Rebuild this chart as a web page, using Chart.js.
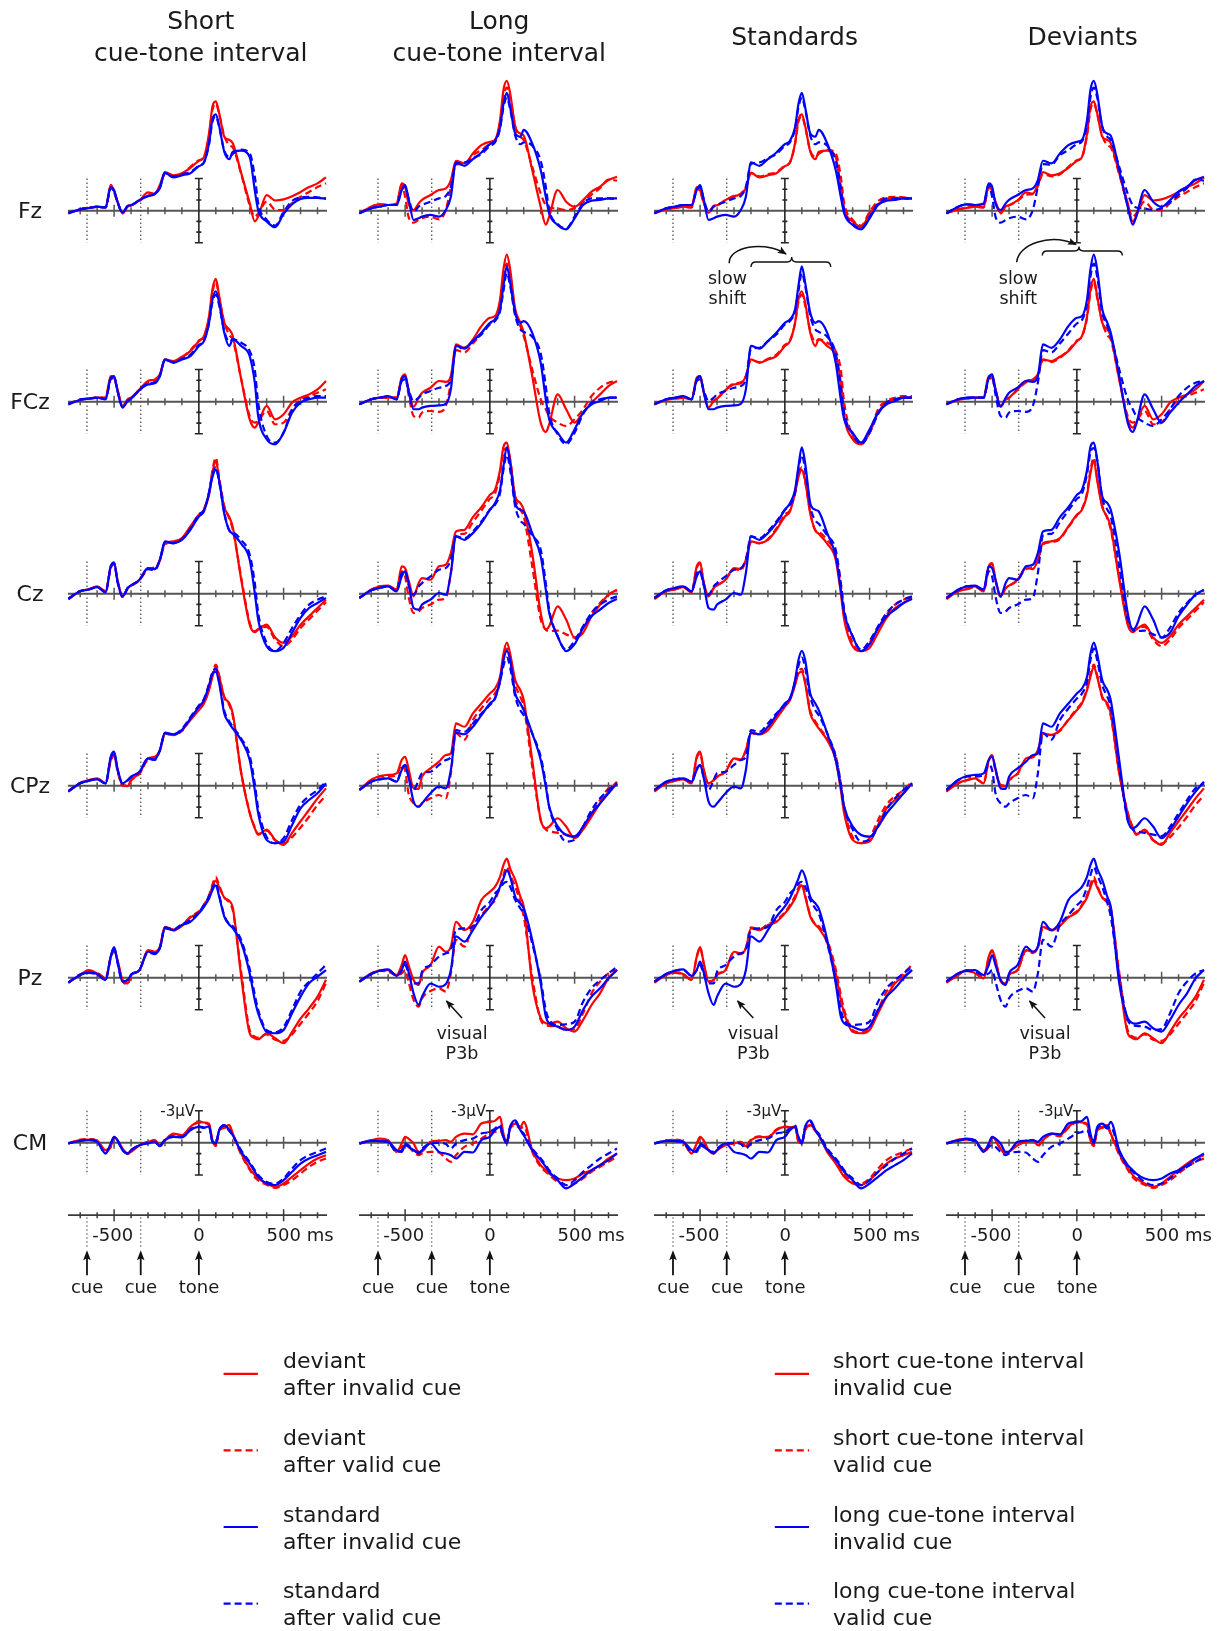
<!DOCTYPE html>
<html>
<head>
<meta charset="utf-8">
<script src="https://cdn.jsdelivr.net/npm/chart.js@4.4.1/dist/chart.umd.min.js"></script>
<style>
  html, body { margin: 0; padding: 0; background: #fff; }
  #fig { position: relative; width: 1222px; height: 1631px; overflow: hidden;
         font-family: "DejaVu Sans", Verdana, sans-serif; color: #1a1a1a; }
  #fig canvas { position: absolute; }
  #ann { position: absolute; left: 0; top: 0; z-index: 2; pointer-events: none; }
  .lbl { position: absolute; white-space: nowrap; transform: translate(-50%, -50%); line-height: 1; z-index: 3; }
  .title { font-size: 25px; line-height: 32px; text-align: center; }
  .elec { font-size: 22px; }
  .uv { font-size: 15px; transform: translate(-100%, -50%); }
  .tick { font-size: 18px; }
  .tick .unit { position: absolute; left: 100%; top: 0; }
  .mark { font-size: 18px; }
  .note { font-size: 17.5px; line-height: 20px; text-align: center; }
  .leg { position: absolute; font-size: 22px; line-height: 27px; white-space: nowrap; z-index: 3; }
</style>
</head>
<body>
<div id="fig">
<svg id="ann" width="1222" height="1631" viewBox="0 0 1222 1631">
  <defs>
    <marker id="head" viewBox="0 0 10 10" refX="9" refY="5" markerWidth="9" markerHeight="9"
            markerUnits="userSpaceOnUse" orient="auto">
      <path d="M0,1 L10,5 L0,9 L2,5 z" fill="#111"/>
    </marker>
  </defs>
  <!-- slow shift, standards -->
  <path d="M729.3,263.3 C728,247 764,240 786,254" fill="none" stroke="#111" stroke-width="1.5" marker-end="url(#head)"/>
  <path d="M751,267 Q751,262 756,262 L787,262 Q791.7,262 791.7,257 Q791.7,262 796.5,262 L826,262 Q830.7,262 830.7,267"
        fill="none" stroke="#111" stroke-width="1.4"/>
  <!-- slow shift, deviants -->
  <path d="M1016.7,262.3 C1018,244 1050,233 1076,244.5" fill="none" stroke="#111" stroke-width="1.5" marker-end="url(#head)"/>
  <path d="M1042.3,255.5 Q1042.3,251 1047,251 L1074.5,251 Q1079,251 1079,246.5 Q1079,251 1083.5,251 L1117.5,251 Q1122.3,251 1122.3,255.5"
        fill="none" stroke="#111" stroke-width="1.4"/>
  <!-- visual P3b -->
  <line x1="462" y1="1018" x2="446.5" y2="1001" stroke="#111" stroke-width="1.5" marker-end="url(#head)"/>
  <line x1="753.3" y1="1018" x2="737.5" y2="1001" stroke="#111" stroke-width="1.5" marker-end="url(#head)"/>
  <line x1="1045" y1="1018" x2="1029.5" y2="1001" stroke="#111" stroke-width="1.5" marker-end="url(#head)"/>
</svg>
</div>
<script>
// sample times in ms relative to tone onset
const times = [-770,-700,-650,-600,-550,-520,-500,-480,-450,-420,-400,-350,-300,-260,-230,-200,-150,-100,-50,0,
  30,60,80,100,120,150,180,200,250,300,330,350,400,450,500,550,600,650,700,750];

// amplitudes in µV (negative plotted up)
// s/l = short/long cue-tone interval, d/s = deviant/standard, i/v = after invalid/valid cue
const fz_sdi = [0.25,-0.12,-0.25,-0.37,-0.3,-2.4,-1.8,-0.85,0.2,-0.4,-0.5,-0.95,-1.7,-1.6,-2.4,-3.6,-3.3,-3.5,-4.0,-4.65,-5.0,-7.2,-9.7,-10.2,-9.1,-6.9,-6.6,-6.3,-3.5,-0.7,1.0,0.55,-1.45,-0.95,-1.05,-1.35,-1.75,-2.2,-2.55,-3.1];
const fz_sdv = [0.2,-0.1,-0.3,-0.35,-0.3,-2.2,-1.7,-0.8,0.25,-0.35,-0.5,-0.9,-1.5,-1.55,-2.3,-3.4,-3.2,-3.4,-4.1,-4.7,-5.0,-7.0,-9.4,-10.0,-9.0,-7.0,-6.1,-5.9,-3.4,-0.5,0.55,0.25,-0.85,-0.1,-0.05,-0.7,-1.3,-1.75,-2.2,-2.55];
const fz_ssi = [0.25,-0.12,-0.25,-0.37,-0.3,-2.2,-1.9,-0.85,0.2,-0.45,-0.5,-1.0,-1.35,-1.55,-2.1,-3.55,-3.1,-3.3,-3.5,-4.15,-4.5,-6.3,-8.5,-9.0,-7.9,-5.5,-4.8,-5.5,-5.6,-5.0,-1.9,-0.05,1.0,1.55,0.3,-0.6,-1.1,-1.2,-1.2,-1.1];
const fz_ssv = [0.2,-0.15,-0.25,-0.35,-0.3,-2.1,-1.8,-0.8,0.15,-0.4,-0.5,-1.0,-1.4,-1.6,-2.2,-3.5,-3.2,-3.4,-3.6,-4.2,-4.5,-6.2,-8.3,-8.8,-7.8,-5.6,-5.0,-5.3,-5.7,-5.35,-3.2,-0.7,0.85,1.4,0.1,-0.9,-1.25,-1.3,-1.25,-1.15];
const fz_ldi = [0.25,-0.37,-0.59,-0.53,-0.68,-2.55,-2.24,-0.68,-0.06,-0.68,-1.0,-1.46,-1.93,-2.08,-2.86,-4.66,-4.41,-5.34,-6.12,-6.43,-6.59,-8.45,-11.24,-12.11,-10.93,-7.83,-7.2,-7.0,-3.79,-0.37,1.3,0.55,-1.93,-0.84,-0.37,-0.99,-1.77,-2.24,-2.86,-3.17];
const fz_ldv = [0.25,-0.37,-0.59,-0.53,-0.62,-2.4,-1.3,0.56,1.12,0.87,0.71,0.56,0.81,-0.06,-2.24,-4.35,-4.29,-5.19,-5.65,-6.21,-6.46,-8.07,-10.56,-11.49,-10.56,-7.83,-6.9,-6.59,-4.1,-1.6,-0.5,-0.3,-0.2,-0.06,-0.25,-0.8,-1.5,-2.1,-2.9,-2.8];
const fz_lsi = [0.25,-0.22,-0.37,-0.53,-0.53,-1.93,-2.39,-1.15,0.87,0.71,0.56,0.4,0.56,-0.06,-1.3,-4.5,-4.19,-4.81,-5.43,-6.21,-6.52,-7.76,-9.94,-10.99,-9.63,-7.2,-6.9,-7.55,-6.27,-3.79,-1.3,0.25,1.34,1.74,0.71,-0.53,-0.93,-1.0,-1.15,-1.15];
const fz_lsv = [0.25,-0.22,-0.37,-0.53,-0.53,-1.93,-2.24,-1.15,0.09,-0.37,-0.53,-0.84,-1.15,-1.37,-2.24,-4.35,-4.5,-4.91,-5.28,-6.06,-6.37,-7.64,-9.63,-10.56,-9.47,-7.0,-6.2,-6.37,-6.06,-4.66,-2.24,-0.06,1.24,1.65,0.56,-0.68,-1.15,-1.15,-1.15,-1.06];

const fcz_sdi = [0.25,-0.16,-0.28,-0.37,-0.37,-2.39,-2.24,-1.15,0.4,-0.22,-0.37,-1.15,-1.93,-2.08,-2.55,-3.94,-3.79,-4.19,-4.72,-5.65,-6.12,-7.98,-10.47,-11.46,-9.84,-7.36,-6.74,-6.12,-2.08,1.65,2.42,1.96,0.4,1.65,1.18,0.09,-0.37,-0.68,-1.15,-1.93];
const fcz_sdv = [0.2,-0.2,-0.3,-0.4,-0.35,-2.2,-2.1,-1.1,0.45,-0.2,-0.35,-1.1,-1.8,-2.0,-2.5,-3.9,-3.7,-4.1,-4.8,-5.7,-6.1,-7.8,-10.2,-11.2,-9.7,-7.4,-6.2,-5.8,-2.1,1.34,1.96,1.8,0.87,2.11,1.96,0.71,-0.22,-0.53,-0.84,-1.15];
const fcz_ssi = [0.25,-0.16,-0.28,-0.37,-0.22,-2.24,-2.39,-1.0,0.56,-0.06,-0.28,-1.09,-1.61,-1.71,-2.39,-3.94,-3.63,-3.94,-4.25,-5.19,-5.65,-7.36,-9.53,-10.31,-9.22,-6.43,-5.19,-5.81,-5.19,-4.25,-1.77,1.34,3.51,3.98,2.89,1.02,0.09,-0.22,-0.37,-0.37];
const fcz_ssv = [0.2,-0.2,-0.3,-0.35,-0.25,-2.1,-2.3,-1.0,0.5,-0.1,-0.3,-1.1,-1.7,-1.8,-2.4,-3.9,-3.7,-4.0,-4.4,-5.3,-5.7,-7.3,-9.3,-10.0,-9.0,-6.6,-5.6,-5.81,-5.5,-4.72,-3.0,0.09,3.2,3.82,2.89,0.71,-0.06,-0.37,-0.53,-0.53];
const fcz_ldi = [0.25,-0.22,-0.37,-0.37,-0.37,-2.24,-2.55,-1.15,0.47,-0.37,-0.84,-1.3,-1.93,-1.85,-2.39,-5.34,-5.03,-5.81,-7.05,-7.83,-7.98,-9.53,-12.33,-13.73,-12.33,-8.6,-7.36,-6.43,-2.39,1.96,2.83,2.11,-0.68,0.71,1.96,1.02,0.09,-0.68,-1.46,-1.93];
const fcz_ldv = [0.25,-0.22,-0.37,-0.37,-0.37,-2.2,-2.4,-0.68,1.34,1.49,1.02,0.87,0.95,0.4,-1.77,-4.81,-4.6,-5.43,-6.37,-7.3,-7.61,-9.16,-11.65,-12.89,-11.65,-8.29,-7.05,-6.12,-3.01,-0.22,0.71,1.34,1.96,2.27,1.65,0.71,-0.53,-1.3,-1.77,-1.93];
const fcz_lsi = [0.25,-0.22,-0.37,-0.53,-0.22,-2.08,-2.39,-1.0,0.71,0.71,0.56,0.4,0.35,0.2,-1.15,-5.2,-4.95,-5.65,-6.43,-7.36,-7.67,-8.6,-10.78,-12.64,-11.09,-8.29,-7.36,-7.52,-6.43,-3.63,-0.22,1.65,2.89,3.82,2.58,1.02,0.25,-0.06,-0.37,-0.37];
const fcz_lsv = [0.25,-0.22,-0.37,-0.47,-0.22,-1.93,-2.08,-1.15,-0.06,-0.37,-0.68,-1.0,-1.3,-1.46,-2.08,-4.91,-5.03,-5.65,-6.27,-7.2,-7.52,-8.45,-10.31,-12.02,-10.78,-7.98,-6.74,-6.52,-6.06,-4.5,-1.46,1.02,3.04,3.98,2.89,1.18,0.09,-0.22,-0.37,-0.37];

const cz_sdi = [0.5,-0.22,-0.43,-0.68,-0.22,-2.55,-2.86,-1.3,0.25,-0.53,-0.75,-1.3,-2.39,-2.3,-3.17,-4.72,-4.88,-5.19,-6.27,-7.36,-7.83,-9.22,-11.24,-12.42,-10.56,-8.07,-7.14,-6.21,-1.3,2.89,3.6,3.35,2.89,4.1,4.6,3.98,2.89,2.11,1.34,0.56];
const cz_sdv = [0.45,-0.25,-0.4,-0.6,-0.25,-2.4,-2.8,-1.2,0.3,-0.5,-0.7,-1.25,-2.3,-2.45,-3.1,-4.6,-4.8,-5.1,-6.2,-7.3,-7.9,-9.4,-11.5,-12.7,-10.8,-8.2,-7.0,-6.0,-1.5,2.7,3.5,3.3,3.1,4.3,4.9,4.3,3.2,2.4,1.6,0.8];
const cz_ssi = [0.5,-0.22,-0.37,-0.62,-0.12,-2.55,-2.92,-1.15,0.25,-0.53,-0.78,-1.3,-2.39,-2.3,-3.17,-4.88,-4.72,-5.03,-5.96,-7.2,-7.67,-9.38,-10.87,-11.55,-10.56,-7.45,-5.9,-5.59,-4.66,-3.17,-0.06,2.42,4.91,5.37,5.06,3.65,2.27,1.34,0.87,0.4];
const cz_ssv = [0.45,-0.25,-0.4,-0.6,-0.15,-2.4,-2.8,-1.1,0.3,-0.5,-0.75,-1.3,-2.3,-2.2,-3.1,-4.8,-4.7,-5.1,-6.1,-7.4,-7.8,-9.5,-11.1,-11.8,-10.4,-7.6,-5.9,-5.75,-5.0,-3.65,-1.0,1.8,4.6,5.37,4.6,3.2,1.96,1.02,0.56,0.25];
const cz_ldi = [0.4,-0.37,-0.68,-0.75,-0.37,-2.55,-2.39,-1.3,0.25,-1.0,-1.46,-1.3,-2.55,-2.7,-3.79,-5.81,-5.96,-7.14,-8.07,-9.22,-9.69,-11.55,-13.7,-14.1,-12.48,-9.07,-8.45,-7.83,-3.79,1.8,3.35,3.04,1.18,2.42,4.1,3.65,2.11,1.02,0.09,-0.37];
const cz_ldv = [0.4,-0.37,-0.68,-0.68,-0.37,-2.08,-1.61,0.25,1.8,1.65,1.34,1.02,0.56,0.4,-1.93,-5.43,-5.59,-6.68,-7.76,-8.85,-9.32,-11.18,-13.17,-13.6,-12.48,-8.91,-7.83,-7.2,-2.55,2.42,3.35,3.5,3.45,3.8,4.1,3.17,1.8,0.87,0.09,-0.22];
const cz_lsi = [0.4,-0.31,-0.53,-0.68,-0.22,-1.61,-2.08,-0.99,1.34,1.49,1.02,0.56,-0.06,0.1,-1.93,-5.34,-5.03,-5.65,-6.58,-7.83,-8.45,-9.69,-11.86,-13.66,-12.17,-8.45,-7.83,-7.67,-5.65,-3.48,-0.37,1.8,3.98,5.37,4.72,3.2,2.11,1.49,0.87,0.5];
const cz_lsv = [0.4,-0.31,-0.53,-0.68,-0.22,-1.93,-2.08,-0.84,0.09,-0.68,-0.99,-1.61,-2.24,-2.39,-3.17,-5.34,-5.19,-5.81,-6.74,-7.83,-8.29,-9.38,-11.55,-12.95,-11.55,-8.1,-6.83,-6.52,-5.43,-4.1,-0.99,1.49,3.98,5.22,4.41,3.04,1.8,1.02,0.56,0.25];

const cpz_sdi = [0.56,-0.22,-0.53,-0.68,-0.22,-2.39,-2.86,-1.46,-0.06,0.05,-0.53,-1.15,-2.55,-2.7,-3.32,-4.88,-4.72,-5.19,-6.12,-7.05,-7.67,-8.91,-10.16,-11.09,-10.16,-8.29,-7.67,-6.74,-1.15,2.58,3.98,4.6,4.1,5.06,5.53,4.41,3.32,2.27,1.18,0.25];
const cpz_sdv = [0.5,-0.25,-0.5,-0.65,-0.25,-2.3,-2.8,-1.4,0.0,-0.1,-0.5,-1.1,-2.45,-2.65,-3.25,-4.8,-4.75,-5.1,-6.2,-7.2,-7.8,-9.1,-10.4,-11.3,-10.3,-8.2,-7.5,-6.5,-1.2,2.5,3.9,4.5,4.2,5.1,5.4,4.8,3.9,2.9,1.8,0.9];
const cpz_ssi = [0.56,-0.22,-0.47,-0.59,-0.22,-2.7,-3.17,-1.61,-0.22,-0.53,-0.84,-1.3,-2.55,-2.45,-3.32,-4.95,-4.8,-5.19,-6.27,-7.36,-7.98,-9.38,-10.47,-10.62,-9.53,-6.74,-5.81,-5.34,-4.25,-2.39,0.4,2.58,5.06,5.37,5.22,3.67,2.11,1.34,0.71,-0.22];
const cpz_ssv = [0.5,-0.25,-0.45,-0.6,-0.2,-2.6,-3.0,-1.5,-0.2,-0.5,-0.8,-1.3,-2.5,-2.4,-3.3,-4.9,-4.8,-5.3,-6.4,-7.5,-8.1,-9.5,-10.6,-10.9,-9.7,-7.0,-6.0,-5.5,-4.4,-2.8,-0.2,2.1,4.8,5.37,4.9,3.2,1.77,0.99,0.4,-0.37];
const cpz_ldi = [0.4,-0.53,-0.9,-1.0,-1.15,-2.39,-2.7,-1.61,0.25,0.3,-0.84,-1.61,-2.24,-2.86,-3.01,-5.81,-5.5,-6.74,-7.67,-8.6,-9.07,-10.16,-12.3,-13.36,-12.3,-9.84,-8.91,-7.98,-2.39,3.2,3.98,3.82,3.04,3.82,4.91,4.1,2.89,1.65,0.56,-0.37];
const cpz_ldv = [0.4,-0.53,-0.84,-0.84,-1.0,-1.93,-1.46,0.71,1.65,1.96,1.65,1.18,0.87,1.18,-1.15,-4.91,-4.29,-6.12,-7.2,-8.14,-8.6,-9.69,-11.71,-12.8,-11.71,-9.38,-8.29,-7.36,-1.77,3.2,4.1,4.25,4.41,4.57,4.72,3.82,2.58,1.34,0.25,-0.22];
const cpz_lsi = [0.4,-0.37,-0.59,-0.68,-0.37,-1.46,-1.93,-0.84,1.49,1.96,1.65,0.71,0.09,0.25,-1.46,-4.95,-4.8,-5.5,-6.58,-7.67,-8.14,-9.84,-11.71,-12.58,-11.71,-8.6,-7.67,-7.05,-4.88,-2.39,0.09,1.96,3.8,4.6,4.75,3.82,2.58,1.65,0.71,-0.22];
const cpz_lsv = [0.4,-0.37,-0.59,-0.68,-0.37,-1.61,-1.93,-0.84,0.4,-0.53,-1.15,-1.3,-1.93,-2.39,-2.7,-5.19,-5.03,-5.81,-6.74,-7.52,-8.14,-9.69,-11.18,-11.96,-11.02,-8.29,-7.05,-6.58,-4.88,-2.7,-0.22,1.96,4.1,5.22,5.06,3.82,2.27,1.18,0.4,-0.22];

const pz_sdi = [0.47,-0.25,-0.71,-0.4,0.06,-1.96,-2.58,-1.64,0.22,0.53,-0.25,-0.71,-2.58,-2.42,-2.89,-4.75,-4.41,-4.84,-5.62,-6.09,-6.71,-7.48,-8.42,-9.07,-8.42,-7.48,-7.17,-6.55,-0.09,5.19,5.65,5.75,5.19,5.65,6.12,5.06,3.82,2.86,1.77,0.2];
const pz_sdv = [0.45,-0.3,-0.6,-0.45,0.0,-1.8,-2.5,-1.6,0.3,0.6,-0.2,-0.7,-2.5,-2.3,-2.8,-4.7,-4.5,-4.9,-5.7,-6.2,-6.8,-7.7,-8.7,-9.4,-8.6,-7.5,-7.0,-6.3,-0.5,4.9,5.5,5.6,5.3,5.8,5.9,5.3,4.3,3.3,2.2,0.5];
const pz_ssi = [0.47,-0.25,-0.47,-0.34,0.22,-1.96,-2.86,-1.49,0.37,0.22,-0.25,-0.71,-2.42,-2.27,-2.73,-4.6,-4.44,-4.91,-5.22,-6.0,-6.62,-7.39,-8.17,-8.63,-7.55,-5.71,-4.94,-4.63,-3.26,-0.4,2.08,3.32,5.06,5.19,4.88,3.32,1.77,0.53,-0.09,-0.71];
const pz_ssv = [0.45,-0.3,-0.45,-0.3,0.2,-1.9,-2.8,-1.4,0.35,0.2,-0.3,-0.75,-2.35,-2.2,-2.8,-4.7,-4.5,-5.0,-5.4,-6.1,-6.8,-7.6,-8.4,-8.8,-7.7,-5.8,-5.0,-4.8,-3.5,-0.8,1.6,3.0,4.9,5.1,4.6,3.0,1.3,0.37,-0.4,-1.2];
const pz_ldi = [0.37,-0.4,-0.65,-0.71,-0.25,-1.18,-2.11,-1.18,0.22,0.68,-0.4,-1.18,-2.89,-2.42,-2.89,-5.2,-4.44,-5.22,-7.24,-8.01,-8.48,-9.41,-10.5,-11.12,-10.19,-9.1,-7.55,-6.62,0.53,3.79,4.25,4.3,4.1,4.72,5.03,3.94,2.55,1.46,0.06,-0.71];
const pz_ldv = [0.37,-0.4,-0.65,-0.56,-0.25,-0.4,-0.71,0.37,2.08,2.71,1.93,1.25,1.0,1.3,-0.4,-3.54,-2.89,-4.91,-5.84,-6.77,-7.24,-8.48,-9.57,-10.34,-9.57,-8.48,-6.96,-5.71,-0.09,3.94,4.41,4.5,4.57,4.88,4.8,3.32,1.46,0.37,-0.4,-0.71];
const pz_lsi = [0.37,-0.34,-0.65,-0.78,-0.16,-0.71,-1.49,-0.56,1.46,2.55,1.77,0.55,0.85,0.6,-0.71,-3.85,-3.36,-4.44,-5.68,-6.65,-7.42,-8.48,-9.25,-10.03,-9.41,-7.55,-6.93,-6.46,-3.52,0.53,3.63,4.25,4.57,4.88,4.57,3.01,1.77,0.99,0.06,-0.71];
const pz_lsv = [0.37,-0.34,-0.65,-0.71,-0.16,-0.71,-1.18,-0.4,0.53,0.53,-0.56,-1.18,-1.96,-2.27,-2.58,-4.44,-4.6,-4.75,-6.31,-7.08,-7.86,-8.32,-8.79,-8.94,-8.48,-7.24,-6.46,-5.99,-3.2,0.22,3.01,3.94,4.41,4.35,4.1,2.24,0.99,0.22,-0.4,-1.02];

const cm_sdi = [0.06,-0.25,-0.31,-0.19,0.68,0.37,-0.56,-0.25,0.53,1.0,0.84,0.22,-0.09,-0.25,0.22,-0.25,-0.87,-0.71,-1.49,-1.96,-1.9,-1.8,-0.25,0.22,-1.18,-1.49,-1.65,-0.87,0.99,2.39,3.01,3.32,3.79,4.1,3.79,3.17,2.55,1.93,1.46,1.15];
const cm_sdv = [0.05,-0.3,-0.35,-0.2,0.75,0.4,-0.5,-0.2,0.6,1.05,0.8,0.2,-0.1,-0.2,0.3,-0.2,-0.8,-0.6,-1.4,-1.9,-1.85,-1.7,-0.2,0.3,-1.1,-1.4,-1.5,-0.8,1.1,2.5,3.2,3.5,3.9,4.2,3.94,3.48,2.86,2.24,1.77,1.46];
const cm_ssi = [0.06,-0.19,-0.25,-0.09,1.0,0.06,-0.56,-0.25,0.68,1.0,0.68,0.22,0.06,-0.09,0.31,-0.25,-0.56,-0.5,-1.18,-1.49,-1.4,-1.55,-0.09,0.06,-1.18,-1.65,-1.18,-0.71,0.84,1.93,2.7,3.17,3.79,3.94,3.48,2.7,1.93,1.46,1.15,0.84];
const cm_ssv = [0.05,-0.2,-0.3,-0.1,0.95,0.1,-0.5,-0.2,0.7,0.95,0.65,0.2,0.0,-0.1,0.25,-0.3,-0.6,-0.55,-1.25,-1.55,-1.45,-1.5,-0.15,0.0,-1.2,-1.6,-1.1,-0.7,0.7,1.8,2.55,3.0,3.65,3.8,3.32,2.39,1.61,1.15,0.84,0.53];
const cm_ldi = [0.06,-0.25,-0.4,-0.25,0.84,0.06,-0.56,-0.4,0.06,0.84,0.8,-0.09,-0.19,-0.25,-0.09,-0.56,-0.87,-0.8,-1.8,-1.96,-2.05,-2.42,-0.87,0.06,-1.49,-1.8,-1.49,-1.96,0.68,2.08,2.55,2.86,3.32,3.48,3.32,2.86,2.55,2.08,1.46,0.99];
const cm_ldv = [0.06,-0.19,-0.31,-0.09,0.68,0.37,0.22,0.37,0.84,1.15,0.99,0.84,0.9,1.46,1.77,1.15,0.37,0.06,-0.4,-0.87,-1.02,-1.18,-0.56,-0.25,-1.33,-1.65,-1.33,-1.49,0.84,2.24,2.7,3.01,3.63,3.94,3.79,3.32,2.7,2.24,1.77,1.3];
const cm_lsi = [0.06,-0.19,-0.17,-0.09,0.68,0.84,0.22,0.37,0.68,0.99,0.68,0.06,0.84,0.99,1.15,1.46,0.84,0.9,-0.25,-0.56,-1.18,-1.49,-0.56,0.06,-1.49,-2.11,-1.18,-0.71,0.68,1.61,2.24,2.7,3.48,4.25,3.79,3.17,2.55,2.08,1.61,0.99];
const cm_lsv = [0.06,-0.19,-0.17,-0.09,0.84,0.68,0.06,0.22,0.68,0.84,0.53,0.06,0.0,0.1,0.53,0.06,-0.25,-0.4,-0.87,-1.02,-1.33,-1.65,-0.56,0.06,-1.49,-1.96,-1.18,-0.87,0.53,1.46,2.08,2.55,3.32,3.94,3.48,2.7,2.08,1.46,0.99,0.53];

const electrodes = ['Fz', 'FCz', 'Cz', 'CPz', 'Pz', 'CM'];
const columnTitles = [['Short', 'cue-tone interval'], ['Long', 'cue-tone interval'], ['Standards'], ['Deviants']];
// which condition goes into red solid, red dashed, blue solid, blue dashed
const columnConds = [
  ['sdi', 'sdv', 'ssi', 'ssv'],
  ['ldi', 'ldv', 'lsi', 'lsv'],
  ['ssi', 'ssv', 'lsi', 'lsv'],
  ['sdi', 'sdv', 'ldi', 'ldv'],
];
const axisTicks = [-700, -600, -500, -400, -300, -200, -100, 0, 100, 200, 300, 400, 500, 600, 700];
const majorTicks = [-500, 0, 500];
const tickValues = [-500, 0, 500];
const tickText = ['-500', '0', '500'];
const uvTicks = [-3, -2, -1, 1, 2, 3];
const cueTimes = [-660, -343];
const markerTimes = [-660, -343, 0];
const markerText = ['cue', 'cue', 'tone'];
const legendLeft = [['deviant', 'after invalid cue'], ['deviant', 'after valid cue'], ['standard', 'after invalid cue'], ['standard', 'after valid cue']];
const legendRight = [['short cue-tone interval', 'invalid cue'], ['short cue-tone interval', 'valid cue'], ['long cue-tone interval', 'invalid cue'], ['long cue-tone interval', 'valid cue']];

const waves = {
  Fz: { sdi: fz_sdi, sdv: fz_sdv, ssi: fz_ssi, ssv: fz_ssv, ldi: fz_ldi, ldv: fz_ldv, lsi: fz_lsi, lsv: fz_lsv },
  FCz: { sdi: fcz_sdi, sdv: fcz_sdv, ssi: fcz_ssi, ssv: fcz_ssv, ldi: fcz_ldi, ldv: fcz_ldv, lsi: fcz_lsi, lsv: fcz_lsv },
  Cz: { sdi: cz_sdi, sdv: cz_sdv, ssi: cz_ssi, ssv: cz_ssv, ldi: cz_ldi, ldv: cz_ldv, lsi: cz_lsi, lsv: cz_lsv },
  CPz: { sdi: cpz_sdi, sdv: cpz_sdv, ssi: cpz_ssi, ssv: cpz_ssv, ldi: cpz_ldi, ldv: cpz_ldv, lsi: cpz_lsi, lsv: cpz_lsv },
  Pz: { sdi: pz_sdi, sdv: pz_sdv, ssi: pz_ssi, ssv: pz_ssv, ldi: pz_ldi, ldv: pz_ldv, lsi: pz_lsi, lsv: pz_lsv },
  CM: { sdi: cm_sdi, sdv: cm_sdv, ssi: cm_ssi, ssv: cm_ssv, ldi: cm_ldi, ldv: cm_ldv, lsi: cm_lsi, lsv: cm_lsv },
};

const RED = '#ff0000';
const BLUE = '#0000ff';
const DASH = [7, 4];
const lineStyles = [
  { color: RED, dash: [], order: 2 },
  { color: RED, dash: DASH, order: 3 },
  { color: BLUE, dash: [], order: 0 },
  { color: BLUE, dash: DASH, order: 1 },
];

// layout
const colZero = [199, 490, 785.3, 1077.3];
const titleX = [200.7, 499.2, 794.6, 1082.6];
const baseY = [210.7, 402.3, 594, 785.7, 977.7, 1142.7];
const PX_PER_MS = 0.1695;
const PX_PER_UV = 10.73;
const T_MIN = -772;
const T_MAX = 756;
const UV_TOP = -15;
const UV_BOTTOM = 7.5;
const UV_BOTTOM_CM = 14;
const TIME_AXIS_OFFSET = 72.3;

const fig = document.getElementById('fig');

const erpAxes = {
  id: 'erpAxes',
  beforeDatasetsDraw(chart, args, opts) {
    const { ctx, scales: { x, y } } = chart;
    const y0 = y.getPixelForValue(0);
    const x0 = x.getPixelForValue(0);
    const yTop = y.getPixelForValue(-3);
    const yBot = y.getPixelForValue(3);
    ctx.save();

    // zero line with 100 ms ticks
    ctx.strokeStyle = '#555';
    ctx.lineWidth = 2;
    ctx.beginPath();
    ctx.moveTo(x.getPixelForValue(T_MIN), y0);
    ctx.lineTo(x.getPixelForValue(T_MAX), y0);
    ctx.stroke();
    ctx.lineWidth = 1.5;
    ctx.beginPath();
    axisTicks.forEach((t) => {
      if (t === 0) return;
      const len = majorTicks.includes(t) ? 6 : 3.5;
      const px = x.getPixelForValue(t);
      ctx.moveTo(px, y0 - len);
      ctx.lineTo(px, y0 + len);
    });
    ctx.stroke();

    // cue onsets
    ctx.strokeStyle = '#555';
    ctx.lineWidth = 1.3;
    ctx.setLineDash([1.5, 2.5]);
    ctx.beginPath();
    cueTimes.forEach((t) => {
      const px = x.getPixelForValue(t);
      ctx.moveTo(px, yTop);
      ctx.lineTo(px, yBot);
    });
    ctx.stroke();
    ctx.setLineDash([]);

    // +-3 uV scale at tone onset
    ctx.strokeStyle = '#262626';
    ctx.lineWidth = 1.6;
    ctx.beginPath();
    ctx.moveTo(x0, yTop);
    ctx.lineTo(x0, yBot);
    uvTicks.forEach((v) => {
      const py = y.getPixelForValue(v);
      const half = Math.abs(v) === 3 ? 4 : 2.5;
      ctx.moveTo(x0 - half, py);
      ctx.lineTo(x0 + half, py);
    });
    ctx.stroke();

    if (opts.timeAxis) {
      const ya = y0 + TIME_AXIS_OFFSET;
      ctx.strokeStyle = '#3a3a3a';
      ctx.lineWidth = 1.8;
      ctx.beginPath();
      ctx.moveTo(x.getPixelForValue(T_MIN), ya);
      ctx.lineTo(x.getPixelForValue(T_MAX), ya);
      ctx.stroke();
      ctx.lineWidth = 1.5;
      ctx.beginPath();
      axisTicks.forEach((t) => {
        const len = majorTicks.includes(t) ? 6 : 3;
        const px = x.getPixelForValue(t);
        ctx.moveTo(px, ya - len);
        ctx.lineTo(px, ya + len);
      });
      ctx.stroke();

      ctx.strokeStyle = '#666';
      ctx.lineWidth = 1.2;
      ctx.setLineDash([1.5, 2.5]);
      ctx.beginPath();
      cueTimes.forEach((t) => {
        const px = x.getPixelForValue(t);
        ctx.moveTo(px, ya + 2);
        ctx.lineTo(px, ya + 32);
      });
      ctx.stroke();
      ctx.setLineDash([]);

      ctx.strokeStyle = '#111';
      ctx.fillStyle = '#111';
      ctx.lineWidth = 1.8;
      markerTimes.forEach((t) => {
        const px = x.getPixelForValue(t);
        ctx.beginPath();
        ctx.moveTo(px, ya + 60);
        ctx.lineTo(px, ya + 42);
        ctx.stroke();
        ctx.beginPath();
        ctx.moveTo(px, ya + 35);
        ctx.lineTo(px - 3.8, ya + 45);
        ctx.lineTo(px, ya + 43);
        ctx.lineTo(px + 3.8, ya + 45);
        ctx.closePath();
        ctx.fill();
      });
    }
    ctx.restore();
  },
};

function addLabel(cls, html, left, top) {
  const div = document.createElement('div');
  div.className = 'lbl ' + cls;
  div.innerHTML = html;
  div.style.left = left + 'px';
  div.style.top = top + 'px';
  fig.appendChild(div);
  return div;
}

electrodes.forEach((el, r) => {
  const isCM = el === 'CM';
  const yMax = isCM ? UV_BOTTOM_CM : UV_BOTTOM;
  addLabel('elec', el, 30, baseY[r]);

  columnConds.forEach((conds, c) => {
    const canvas = document.createElement('canvas');
    canvas.width = Math.round((T_MAX - T_MIN) * PX_PER_MS);
    canvas.height = Math.round((yMax - UV_TOP) * PX_PER_UV);
    canvas.style.left = (colZero[c] + T_MIN * PX_PER_MS) + 'px';
    canvas.style.top = (baseY[r] + UV_TOP * PX_PER_UV) + 'px';
    fig.insertBefore(canvas, document.getElementById('ann'));

    const datasets = conds.map((key, i) => ({
      data: times.map((t, j) => ({ x: t, y: waves[el][key][j] })),
      borderColor: lineStyles[i].color,
      borderDash: lineStyles[i].dash,
      borderWidth: 2.2,
      order: lineStyles[i].order,
      pointRadius: 0,
      fill: false,
      clip: false,
      cubicInterpolationMode: 'monotone',
    }));

    new Chart(canvas, {
      type: 'line',
      data: { datasets },
      options: {
        responsive: false,
        animation: false,
        devicePixelRatio: 1,
        events: [],
        layout: { padding: 0 },
        plugins: {
          legend: { display: false },
          tooltip: { enabled: false },
          erpAxes: { timeAxis: isCM },
        },
        scales: {
          x: { type: 'linear', min: T_MIN, max: T_MAX, display: false },
          y: { type: 'linear', min: UV_TOP, max: yMax, reverse: true, display: false },
        },
      },
      plugins: [erpAxes],
    });

    if (isCM) {
      addLabel('uv', '-3μV', colZero[c] - 4, baseY[r] - 3 * PX_PER_UV);
      const ya = baseY[r] + TIME_AXIS_OFFSET;
      tickValues.forEach((t, i) => {
        const unit = t === 500 ? '<span class="unit">&nbsp;ms</span>' : '';
        addLabel('tick', tickText[i] + unit, colZero[c] + t * PX_PER_MS - (t < 0 ? 1.5 : 0), ya + 20);
      });
      markerTimes.forEach((t, i) => {
        addLabel('mark', markerText[i], colZero[c] + t * PX_PER_MS, ya + 72);
      });
    }
  });
});

columnTitles.forEach((lines, c) => {
  addLabel('title', lines.join('<br>'), titleX[c], 37);
});

// annotations
addLabel('note', 'slow<br>shift', 727.5, 288);
addLabel('note', 'slow<br>shift', 1018.3, 288);
addLabel('note', 'visual<br>P3b', 462, 1042.5);
addLabel('note', 'visual<br>P3b', 753.3, 1042.5);
addLabel('note', 'visual<br>P3b', 1045, 1042.5);

// legend
const ann = document.getElementById('ann');
const LEG_TOP = 1373.8;
const LEG_STEP = 76.6;
function addLegend(entries, x1, x2, textX) {
  entries.forEach((lines, i) => {
    const yy = LEG_TOP + i * LEG_STEP;
    const ln = document.createElementNS('http://www.w3.org/2000/svg', 'line');
    ln.setAttribute('x1', x1);
    ln.setAttribute('x2', x2);
    ln.setAttribute('y1', yy);
    ln.setAttribute('y2', yy);
    ln.setAttribute('stroke', lineStyles[i].color);
    ln.setAttribute('stroke-width', 2.2);
    if (lineStyles[i].dash.length) ln.setAttribute('stroke-dasharray', lineStyles[i].dash.join(' '));
    ann.appendChild(ln);
    const div = document.createElement('div');
    div.className = 'leg';
    div.innerHTML = lines.join('<br>');
    div.style.left = textX + 'px';
    div.style.top = (yy - 26.5) + 'px';
    fig.appendChild(div);
  });
}
addLegend(legendLeft, 223.6, 257.9, 283);
addLegend(legendRight, 774.8, 809.1, 833);
</script>
</body>
</html>
